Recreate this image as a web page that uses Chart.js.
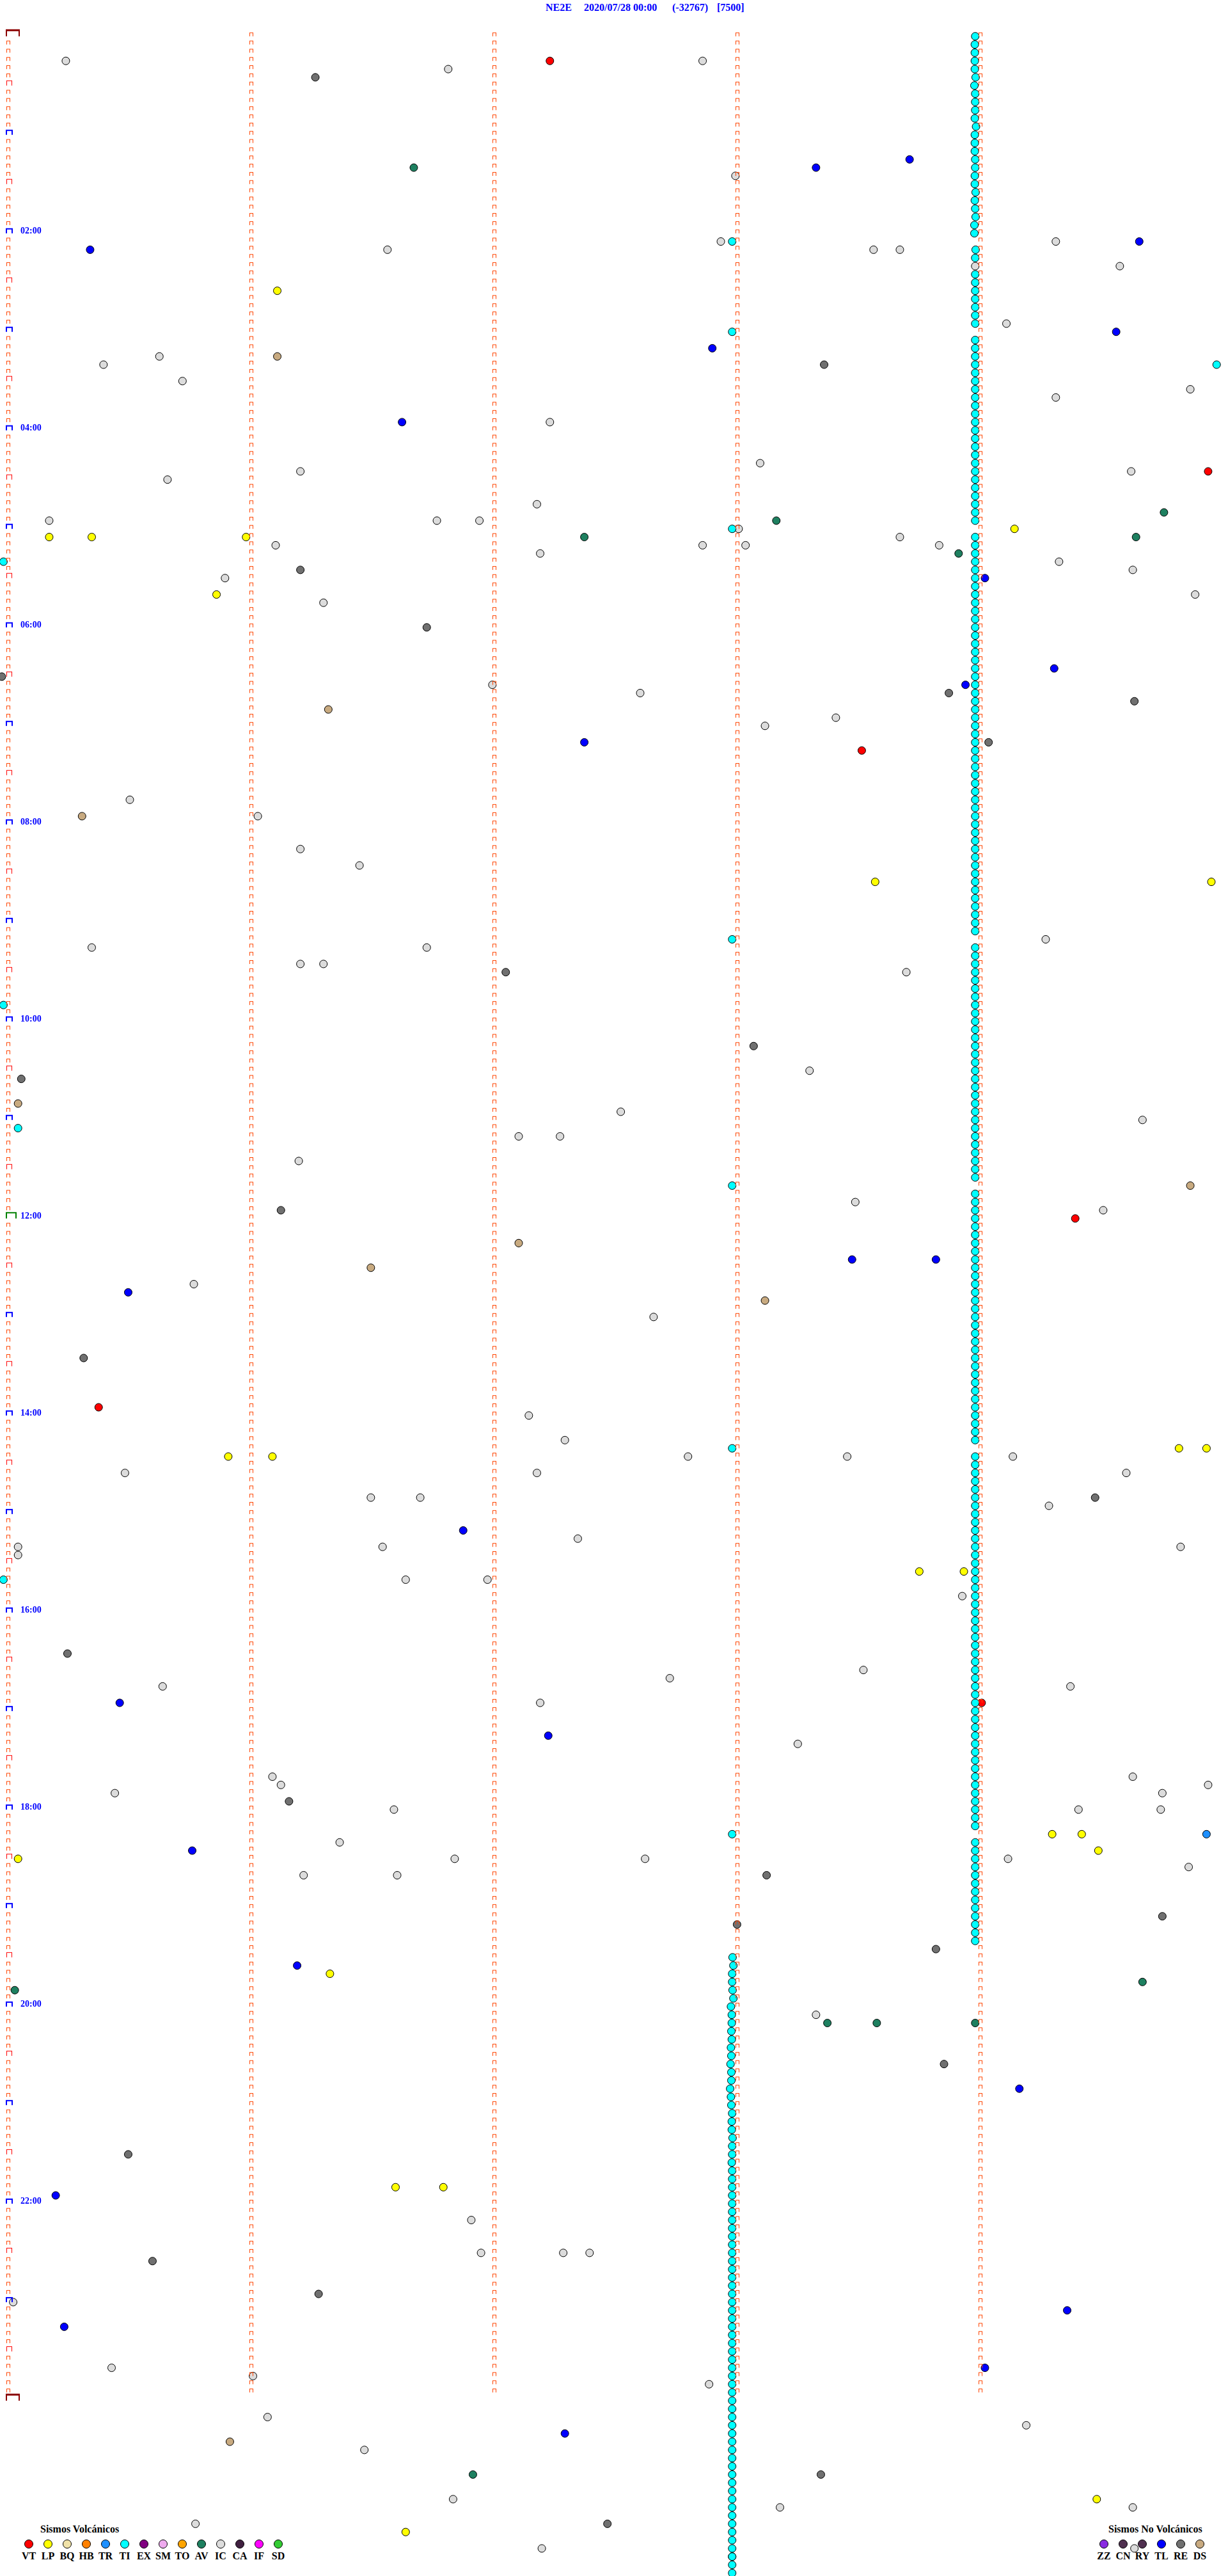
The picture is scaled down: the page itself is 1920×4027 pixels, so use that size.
<!DOCTYPE html>
<html><head><meta charset="utf-8">
<script src="https://cdn.jsdelivr.net/npm/chart.js@4.4.0/dist/chart.umd.min.js"></script>
<style>
html,body{margin:0;padding:0;background:#fff;}
#wrap{position:relative;width:1920px;height:4027px;overflow:hidden;background:#fff;}
#c{position:absolute;left:0;top:0;z-index:2;}
.t{position:absolute;top:2px;font:bold 16px "Liberation Serif","Times New Roman",serif;color:#0000ff;white-space:nowrap;line-height:20px;}
.lgt{position:absolute;font:bold 16px "Liberation Serif","Times New Roman",serif;color:#000;white-space:nowrap;line-height:20px;}
.dot{position:absolute;width:12px;height:12px;border-radius:50%;border:1px solid #000;}
.lab{position:absolute;font:bold 16px "Liberation Serif","Times New Roman",serif;color:#000;white-space:nowrap;line-height:20px;transform:translateX(-50%);}
</style></head>
<body><div id="wrap">
<div class="t" style="left:853px">NE2E</div>
<div class="t" style="left:913px">2020/07/28 00:00</div>
<div class="t" style="left:1051px">(-32767)</div>
<div class="t" style="left:1121px">[7500]</div>
<div id="legend"></div>
<canvas id="c" width="1920" height="4027"></canvas>
</div>
<script>
// ---------- tick / label data ----------
const hourLabels = ['02:00','04:00','06:00','08:00','10:00','12:00','14:00','16:00','18:00','20:00','22:00'];
const hourLabelRows = [24,48,72,96,120,144,168,192,216,240,264];
const minuteTickSecs = [60,120,180,240];
const rowsPerDay = 288;

// ---------- events: [seconds within 5-min row, row index] ----------
const VT = [[133.7,3],[296.2,53],[210.7,87],[263.4,144],[22.3,167],[240.3,203]];
const LP = [[66.4,31],[10.1,61],[20.6,61],[58.7,61],[248.4,60],[51.4,68],[214.0,103],[297.0,103],
  [54.3,173],[65.2,173],[289.0,172],[295.8,172],[224.9,187],[235.9,187],[257.7,219],[265.0,219],
  [269.1,221],[2.4,222],[79.4,236],[95.6,262],[107.4,262],[268.7,300],[98.1,304]];
const TR = [[295.8,219]];
const TI = [[178.7,25],[178.7,36],[298.3,40],[-1.2,64],[178.7,60],[178.7,110],[-1.2,118],[2.4,133],
  [178.7,140],[178.7,172],[-1.2,188],[178.7,219]];
const AV = [[100.1,16],[285.3,58],[142.2,61],[189.6,59],[234.6,63],[278.4,61],[280.0,237],[1.6,238],
  [202.2,242],[214.4,242],[238.7,242],[114.7,297]];
const IC = [[14.2,3],[108.6,4],[171.4,3],[179.5,17],[93.6,26],[175.9,25],[213.6,26],[220.1,26],[258.6,25],
  [274.4,28],[238.7,28],[246.4,35],[37.3,39],[23.5,40],[43.0,42],[258.6,44],[291.8,43],[133.7,47],
  [185.6,52],[39.3,54],[72.1,53],[277.2,53],[130.5,57],[10.1,59],[105.8,59],[116.3,59],[66.0,62],
  [171.4,62],[180.3,60],[182.0,62],[220.1,61],[229.8,62],[131.3,63],[53.5,66],[259.4,64],[277.6,65],
  [77.8,69],[293.0,68],[119.5,79],[156.0,80],[186.8,84],[204.3,83],[30.0,93],[61.6,95],[72.1,99],
  [86.7,101],[20.6,111],[103.3,111],[256.1,110],[72.1,113],[77.8,113],[221.7,114],[197.8,126],
  [151.2,131],[280.0,132],[126.0,134],[136.2,134],[71.7,137],[209.1,142],[270.3,143],[45.8,152],
  [159.3,156],[128.5,168],[137.4,171],[167.8,173],[207.1,173],[248.0,173],[28.8,175],[130.5,175],
  [276.0,175],[256.9,179],[89.5,178],[101.7,178],[140.6,183],[92.4,184],[289.4,184],[2.4,184],
  [2.4,185],[235.5,190],[98.1,188],[118.3,188],[163.3,200],[211.1,199],[38.1,201],[131.3,203],
  [262.2,201],[194.9,208],[65.2,212],[67.3,213],[277.6,212],[296.2,213],[26.3,214],[284.9,214],
  [95.2,216],[284.5,216],[264.2,216],[81.8,220],[110.2,222],[157.2,222],[246.8,222],[291.4,223],
  [72.9,224],[96.0,224],[199.4,241],[114.3,266],[116.7,270],[137.0,270],[143.5,270],[1.2,276],
  [25.5,284],[60.4,285],[173.0,286],[64.0,290],[251.3,291],[87.9,294],[109.8,300],[277.6,301],
  [190.5,301],[46.2,303],[131.7,306],[178.7,307],[278.0,306]];
const RE = [[75.8,5],[201.4,40],[72.1,65],[103.3,72],[-1.6,78],[232.2,80],[278.0,81],[242.0,86],
  [122.8,114],[184.0,123],[3.2,127],[67.3,143],[18.6,161],[268.3,178],[14.6,197],[69.3,215],
  [187.2,224],[179.9,230],[284.9,229],[229.0,233],[231.0,247],[29.6,258],[35.6,271],[76.6,275],
  [200.6,297],[147.9,303]];
const TL = [[199.4,16],[222.5,15],[20.2,26],[279.2,25],[273.5,36],[173.8,38],[97.2,47],[241.1,66],
  [236.3,79],[258.2,77],[142.2,86],[208.3,149],[229.0,149],[29.6,153],[112.3,182],[27.5,203],
  [133.3,207],[249.6,250],[45.4,221],[71.3,235],[11.7,263],[261.4,277],[13.8,279],[241.1,284],
  [137.4,292]];
const DS = [[66.4,39],[79.0,82],[18.2,95],[2.4,130],[291.8,140],[126.0,147],[89.5,150],[186.8,154],
  [54.7,293]];

// periodic TI chain near minute 4 (rows 0..232), seconds per row, null = no event
const tiChainAStart = 0;
const tiChainA = [
 238.7,238.6,238.6,238.6,238.6,238.8,238.5,238.7,238.7,238.7,238.6,238.9,
 238.6,238.6,238.6,238.7,238.7,238.6,238.6,238.8,238.6,238.7,238.8,238.5,
 238.5,null,238.8,238.7,null,238.7,238.7,238.7,238.7,238.7,238.7,238.7,
 null,238.7,238.7,238.7,238.7,238.7,238.7,238.7,238.7,238.7,238.7,238.7,
 238.7,238.7,238.7,238.7,238.7,238.7,238.7,238.7,238.7,238.7,238.7,238.7,
 null,238.7,238.7,238.7,238.7,238.7,238.7,238.7,238.7,238.7,238.7,238.7,
 238.7,238.7,238.7,238.7,238.7,238.7,238.7,238.7,238.7,238.7,238.7,238.7,
 238.7,238.7,238.7,238.7,238.7,238.7,238.7,238.7,238.7,238.7,238.7,238.7,
 238.7,238.7,238.7,238.7,238.7,238.7,238.7,238.7,238.7,238.7,238.7,238.7,
 238.7,238.7,null,238.7,238.7,238.7,238.7,238.7,238.7,238.7,238.7,238.7,
 238.7,238.7,238.7,238.7,238.7,238.7,238.7,238.7,238.7,238.7,238.7,238.7,
 238.7,238.7,238.7,238.7,238.7,238.7,238.7,238.7,null,238.7,238.7,238.7,
 238.7,238.7,238.7,238.7,238.7,238.7,238.7,238.7,238.7,238.7,238.7,238.7,
 238.7,238.7,238.7,238.7,238.7,238.7,238.7,238.7,238.7,238.7,238.7,238.7,
 238.7,238.7,238.7,238.7,null,238.7,238.7,238.7,238.7,238.7,238.7,238.7,
 238.7,238.7,238.7,238.7,238.7,238.7,238.7,238.7,238.7,238.7,238.7,238.7,
 238.7,238.7,238.7,238.7,238.7,238.7,238.7,238.7,238.7,238.7,238.7,238.7,
 238.7,238.7,238.7,238.7,238.7,238.7,238.7,238.7,238.7,238.7,238.7,238.7,
 238.7,238.7,238.7,null,238.7,238.7,238.7,238.7,238.7,238.7,238.7,238.7,
 238.7,238.7,238.7,238.7,238.7];
// periodic TI chain near minute 3 (rows 234..309)
const tiChainBStart = 234;
const tiChainB = [
 178.8,179.0,178.7,178.7,178.8,179.0,178.4,178.6,178.6,178.5,178.6,178.4,
 178.5,178.3,178.5,178.5,178.2,178.4,178.5,178.7,178.6,178.6,178.8,178.7,
 178.7,178.6,178.7,178.7,178.7,178.7,178.7,178.7,178.7,178.7,178.7,178.7,
 178.7,178.7,178.7,178.7,178.7,178.7,178.7,178.7,178.7,178.7,178.7,178.7,
 178.7,178.7,178.7,178.7,178.7,178.7,178.7,178.7,178.7,178.7,178.7,178.7,
 178.7,178.7,178.7,178.7,178.7,178.7,178.7,178.7,178.7,178.7,178.7,178.7,
 178.7,178.7,178.7,178.7];

// ---------- legend entries ----------
const volcanicCodes = ['VT','LP','BQ','HB','TR','TI','EX','SM','TO','AV','IC','CA','IF','SD'];
const volcanicColors = ['#ff0000','#ffff00','#f0e2a8','#ff8000','#1e90ff','#00ffff','#800080','#eeaaee','#ffa500','#1e8060','#dcdcdc','#402040','#ff00ff','#33cc33'];
const nonVolcanicCodes = ['ZZ','CN','RY','TL','RE','DS'];
const nonVolcanicColors = ['#8a2be2','#503050','#503050','#0000ff','#707070','#c8aa80'];

// ---------- geometry (pixel layout of the helicorder) ----------
const X0 = 13, PX_PER_SEC = 380/60;     // minute columns 380 px apart
const Y0 = 56.7, PX_PER_ROW = 12.834;   // 5-minute rows
const W = 1920, H = 4027;

function pts(arr){ return arr.map(p => ({x:p[0], y:p[1]})); }
function chainPts(arr, start){ const o=[]; arr.forEach((s,i)=>{ if(s!==null) o.push({x:s,y:start+i}); }); return o; }

function glyph(left, w, h, lw, topLw, color){
  const ext = Math.max(Math.abs(left), Math.abs(left+w)) + 1;
  const c = document.createElement('canvas');
  c.width = Math.ceil(ext)*2; c.height = (h+2)*2;
  const g = c.getContext('2d');
  const cx = c.width/2, cy = c.height/2;
  g.fillStyle = color;
  g.fillRect(cx+left, cy-h, w, topLw);
  g.fillRect(cx+left, cy-h, lw, h);
  g.fillRect(cx+left+w-lw, cy-h, lw, h);
  return c;
}

const smallTicks=[], halfTicks=[], hourTicks=[], dayTicks=[], noonTicks=[];
for (let r=0; r<=rowsPerDay; r++){
  if (r===0 || r===rowsPerDay) dayTicks.push({x:0,y:r});
  else if (r===rowsPerDay/2) noonTicks.push({x:0,y:r});
  else if (r%12===0) hourTicks.push({x:0,y:r});
  else if (r%6===0) halfTicks.push({x:0,y:r});
  else smallTicks.push({x:0,y:r});
  if (r<rowsPerDay) minuteTickSecs.forEach(s=>smallTicks.push({x:s,y:r}));
}

function tickDs(data, style){
  return {data, pointStyle:style, pointRadius:3, borderWidth:0, backgroundColor:'rgba(0,0,0,0)', order:0};
}
function evDs(label, data, color, order){
  return {label, data, pointStyle:'circle', pointRadius:6, borderWidth:1, borderColor:'#000', backgroundColor:color, order};
}

const hourLabelPlugin = {
  id:'hourLabels',
  afterDatasetsDraw(chart){
    const {ctx, scales:{x, y}} = chart;
    ctx.save();
    ctx.font = 'bold 14px "Liberation Serif", "Times New Roman", serif';
    ctx.fillStyle = '#0000ff';
    ctx.textBaseline = 'alphabetic';
    hourLabels.forEach((lab,i)=>{
      ctx.fillText(lab, Math.round(x.getPixelForValue(3.0)), Math.round(y.getPixelForValue(hourLabelRows[i])));
    });
    ctx.restore();
  }
};

new Chart(document.getElementById('c'), {
  type:'scatter',
  data:{datasets:[
    tickDs(smallTicks, glyph(-3,6,6,1,1,'#ff4500')),
    tickDs(halfTicks, glyph(-3,9,8,1,1,'#ff0000')),
    tickDs(hourTicks, glyph(-4,11,8,2,2,'#0000ff')),
    tickDs(noonTicks, glyph(-4,17,10,2,2,'#008000')),
    tickDs(dayTicks, glyph(-4,22,11,2,3,'#8b0000')),
    evDs('TI', chainPts(tiChainA, tiChainAStart), '#00ffff', 1),
    evDs('TI', chainPts(tiChainB, tiChainBStart), '#00ffff', 1),
    evDs('TI', pts(TI), '#00ffff', 1),
    evDs('VT', pts(VT), '#ff0000', 1),
    evDs('LP', pts(LP), '#ffff00', 1),
    evDs('TR', pts(TR), '#1e90ff', 1),
    evDs('AV', pts(AV), '#1e8060', 1),
    evDs('IC', pts(IC), '#dcdcdc', 1),
    evDs('RE', pts(RE), '#707070', 1),
    evDs('TL', pts(TL), '#0000ff', 1),
    evDs('DS', pts(DS), '#c8aa80', 1)
  ]},
  options:{
    responsive:false, animation:false, events:[],
    layout:{padding:0, autoPadding:false},
    plugins:{legend:{display:false}, tooltip:{enabled:false}, title:{display:false}},
    scales:{
      x:{type:'linear', display:false, min:-X0/PX_PER_SEC, max:(W-X0)/PX_PER_SEC},
      y:{type:'linear', display:false, reverse:true, min:-Y0/PX_PER_ROW, max:(H-Y0)/PX_PER_ROW}
    }
  },
  plugins:[hourLabelPlugin]
});

// ---------- legends (HTML) ----------
const lg = document.getElementById('legend');
function addLegend(title, titleLeft, codes, colors, firstX){
  const t = document.createElement('div'); t.className='lgt'; t.textContent=title;
  t.style.left = titleLeft+'px'; t.style.top='3944px'; lg.appendChild(t);
  codes.forEach((c,i)=>{
    const cx = firstX + 30*i;
    const d = document.createElement('div'); d.className='dot';
    d.style.left=(cx-7)+'px'; d.style.top=(3977-7)+'px'; d.style.background=colors[i]; lg.appendChild(d);
    const l = document.createElement('div'); l.className='lab'; l.textContent=c;
    l.style.left=cx+'px'; l.style.top='3986px'; lg.appendChild(l);
  });
}
addLegend('Sismos Volcánicos', 63, volcanicCodes, volcanicColors, 45);
addLegend('Sismos No Volcánicos', 1733, nonVolcanicCodes, nonVolcanicColors, 1726);
</script></body></html>
